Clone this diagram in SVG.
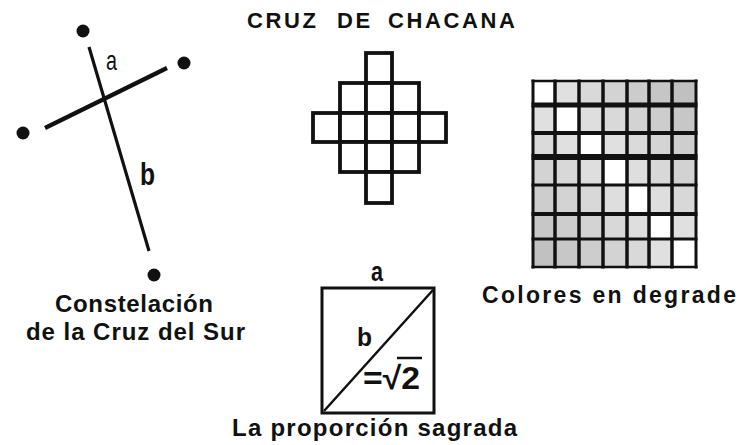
<svg xmlns="http://www.w3.org/2000/svg" width="739" height="445" viewBox="0 0 739 445">
<style>
.t{font-family:"Liberation Sans",Arial,sans-serif;font-weight:bold;fill:#111}
.r{font-family:"Liberation Sans",Arial,sans-serif;fill:#111}
.sq{fill:#fff;stroke:#111;stroke-width:3.8}
.ln{stroke:#111;fill:none}
.dot{fill:#111}
</style>
<rect width="739" height="445" fill="#fff"/>
<text class="t" y="28" font-size="22" letter-spacing="2.6"><tspan x="247">CRUZ</tspan> <tspan x="337">DE</tspan> <tspan x="388">CHACANA</tspan></text>

<g id="constelacion">
<line class="ln" x1="89" y1="47" x2="149" y2="251" stroke-width="3.2"/>
<line class="ln" x1="45" y1="128" x2="167" y2="68" stroke-width="4.2"/>
<circle class="dot" cx="83" cy="31" r="6.5"/>
<circle class="dot" cx="184" cy="63" r="6.5"/>
<circle class="dot" cx="23" cy="133" r="6.5"/>
<circle class="dot" cx="154" cy="275" r="6.5"/>
<text class="r" x="106" y="70" font-size="28" textLength="11" lengthAdjust="spacingAndGlyphs">a</text>
<text class="t" x="140" y="185" font-size="32" textLength="15" lengthAdjust="spacingAndGlyphs">b</text>
<text class="t" x="55" y="312" font-size="24" textLength="158" lengthAdjust="spacing">Constelación</text>
<text class="t" x="26" y="340" font-size="24" textLength="219" lengthAdjust="spacing">de la Cruz del Sur</text>
</g>

<g id="chacana">
<rect class="sq" x="366" y="53" width="26" height="30"/>
<rect class="sq" x="340" y="83" width="26" height="30"/>
<rect class="sq" x="366" y="83" width="26" height="30"/>
<rect class="sq" x="392" y="83" width="27" height="30"/>
<rect class="sq" x="313" y="113" width="27" height="29"/>
<rect class="sq" x="340" y="113" width="26" height="29"/>
<rect class="sq" x="366" y="113" width="26" height="29"/>
<rect class="sq" x="392" y="113" width="27" height="29"/>
<rect class="sq" x="419" y="113" width="27" height="29"/>
<rect class="sq" x="340" y="142" width="26" height="30"/>
<rect class="sq" x="366" y="142" width="26" height="30"/>
<rect class="sq" x="392" y="142" width="27" height="30"/>
<rect class="sq" x="366" y="172" width="26" height="31"/>
</g>

<g id="colores">
<g>
<rect x="533" y="81" width="22" height="24" fill="#ffffff"/><rect x="555" y="81" width="24" height="24" fill="#e0e0e0"/><rect x="579" y="81" width="24" height="24" fill="#d9d9d9"/><rect x="603" y="81" width="24" height="24" fill="#d3d3d3"/><rect x="627" y="81" width="22" height="24" fill="#cccccc"/><rect x="649" y="81" width="23" height="24" fill="#c6c6c6"/><rect x="672" y="81" width="24" height="24" fill="#c0c0c0"/>
<rect x="533" y="105" width="22" height="28" fill="#e0e0e0"/><rect x="555" y="105" width="24" height="28" fill="#ffffff"/><rect x="579" y="105" width="24" height="28" fill="#dedede"/><rect x="603" y="105" width="24" height="28" fill="#d9d9d9"/><rect x="627" y="105" width="22" height="28" fill="#d3d3d3"/><rect x="649" y="105" width="23" height="28" fill="#cdcdcd"/><rect x="672" y="105" width="24" height="28" fill="#c7c7c7"/>
<rect x="533" y="133" width="22" height="24" fill="#dadada"/><rect x="555" y="133" width="24" height="24" fill="#e0e0e0"/><rect x="579" y="133" width="24" height="24" fill="#ffffff"/><rect x="603" y="133" width="24" height="24" fill="#e0e0e0"/><rect x="627" y="133" width="22" height="24" fill="#dadada"/><rect x="649" y="133" width="23" height="24" fill="#d4d4d4"/><rect x="672" y="133" width="24" height="24" fill="#cecece"/>
<rect x="533" y="157" width="22" height="28" fill="#d3d3d3"/><rect x="555" y="157" width="24" height="28" fill="#d8d8d8"/><rect x="579" y="157" width="24" height="28" fill="#dedede"/><rect x="603" y="157" width="24" height="28" fill="#ffffff"/><rect x="627" y="157" width="22" height="28" fill="#dedede"/><rect x="649" y="157" width="23" height="28" fill="#d8d8d8"/><rect x="672" y="157" width="24" height="28" fill="#d2d2d2"/>
<rect x="533" y="185" width="22" height="29" fill="#cdcdcd"/><rect x="555" y="185" width="24" height="29" fill="#d3d3d3"/><rect x="579" y="185" width="24" height="29" fill="#d8d8d8"/><rect x="603" y="185" width="24" height="29" fill="#dedede"/><rect x="627" y="185" width="22" height="29" fill="#ffffff"/><rect x="649" y="185" width="23" height="29" fill="#dedede"/><rect x="672" y="185" width="24" height="29" fill="#d8d8d8"/>
<rect x="533" y="214" width="22" height="25" fill="#c7c7c7"/><rect x="555" y="214" width="24" height="25" fill="#cdcdcd"/><rect x="579" y="214" width="24" height="25" fill="#d3d3d3"/><rect x="603" y="214" width="24" height="25" fill="#d8d8d8"/><rect x="627" y="214" width="22" height="25" fill="#dedede"/><rect x="649" y="214" width="23" height="25" fill="#ffffff"/><rect x="672" y="214" width="24" height="25" fill="#e0e0e0"/>
<rect x="533" y="239" width="22" height="28" fill="#c1c1c1"/><rect x="555" y="239" width="24" height="28" fill="#c7c7c7"/><rect x="579" y="239" width="24" height="28" fill="#cdcdcd"/><rect x="603" y="239" width="24" height="28" fill="#d3d3d3"/><rect x="627" y="239" width="22" height="28" fill="#d9d9d9"/><rect x="649" y="239" width="23" height="28" fill="#e0e0e0"/><rect x="672" y="239" width="24" height="28" fill="#ffffff"/>
</g>
<g class="ln">
<line x1="533" y1="79.5" x2="533" y2="268.5" stroke-width="3"/>
<line x1="555" y1="79.5" x2="555" y2="268.5" stroke-width="3.5"/>
<line x1="579" y1="79.5" x2="579" y2="268.5" stroke-width="3.5"/>
<line x1="603" y1="79.5" x2="603" y2="268.5" stroke-width="3.5"/>
<line x1="627" y1="79.5" x2="627" y2="268.5" stroke-width="3.5"/>
<line x1="649" y1="79.5" x2="649" y2="268.5" stroke-width="3.5"/>
<line x1="672" y1="79.5" x2="672" y2="268.5" stroke-width="3.5"/>
<line x1="696" y1="79.5" x2="696" y2="268.5" stroke-width="3"/>
<line x1="531.5" y1="81" x2="697.5" y2="81" stroke-width="2.5"/>
<line x1="531.5" y1="105" x2="697.5" y2="105" stroke-width="5"/>
<line x1="531.5" y1="133" x2="697.5" y2="133" stroke-width="4"/>
<line x1="531.5" y1="157" x2="697.5" y2="157" stroke-width="6"/>
<line x1="531.5" y1="185" x2="697.5" y2="185" stroke-width="3"/>
<line x1="531.5" y1="214" x2="697.5" y2="214" stroke-width="4"/>
<line x1="531.5" y1="239" x2="697.5" y2="239" stroke-width="3"/>
<line x1="531.5" y1="267" x2="697.5" y2="267" stroke-width="2.5"/>
</g>
<text class="t" x="482" y="303" font-size="23" textLength="254" lengthAdjust="spacing">Colores en degrade</text>
</g>

<g id="proporcion">
<rect x="322" y="288" width="112" height="125" fill="none" stroke="#111" stroke-width="3"/>
<line class="ln" x1="324" y1="411" x2="433" y2="290" stroke-width="2.5"/>
<text class="t" x="371" y="281" font-size="28" textLength="12" lengthAdjust="spacingAndGlyphs">a</text>
<text class="t" x="357" y="346" font-size="25" textLength="15" lengthAdjust="spacingAndGlyphs">b</text>
<text class="t" x="363" y="389" font-size="32" textLength="57" lengthAdjust="spacingAndGlyphs">=√2</text>
<line class="ln" x1="397" y1="358" x2="422" y2="358" stroke-width="2.5"/>
<text class="t" x="232" y="436" font-size="24" textLength="285" lengthAdjust="spacing">La proporción sagrada</text>
</g>
</svg>
